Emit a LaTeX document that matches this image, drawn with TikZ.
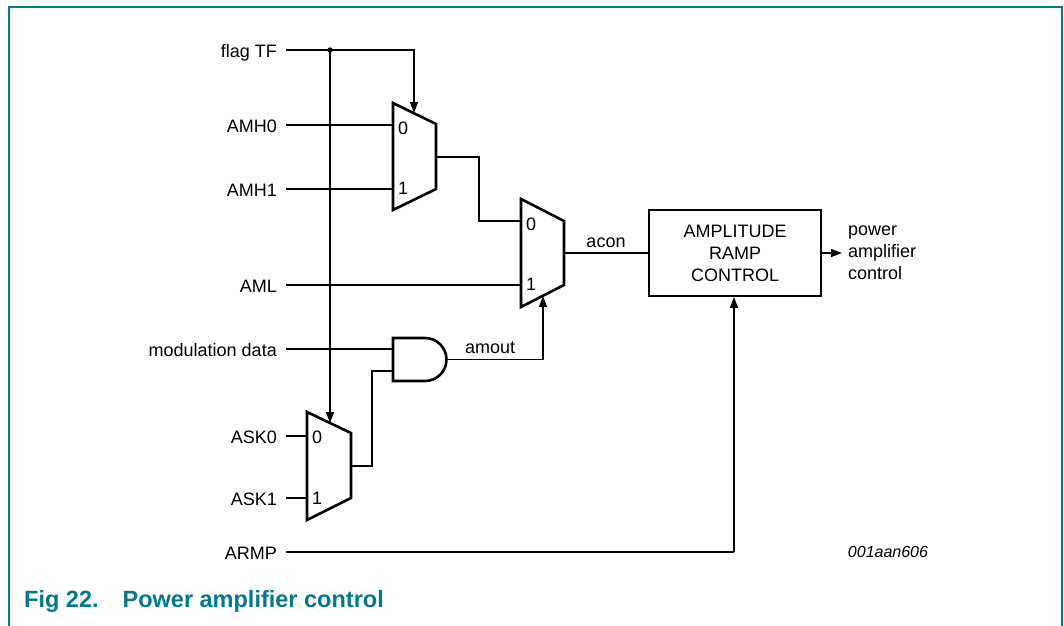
\documentclass[tikz,border=0pt]{standalone}
\usepackage{fontspec}
\setmainfont{Liberation Sans}
\usetikzlibrary{arrows.meta}
\definecolor{nxpteal}{RGB}{0,121,140}
\begin{document}
\begin{tikzpicture}[x=1pt,y=-1pt,
  wire/.style={line width=1.3pt},
  arr/.style={wire,-{Triangle[length=11pt,width=8pt]}},
  blk/.style={line width=2.6pt,line join=miter},
  lbl/.style={anchor=base east,inner sep=0pt,font=\fontsize{18}{22}\selectfont},
  pin/.style={anchor=base west,inner sep=0pt,font=\fontsize{18}{22}\selectfont},
  txt/.style={inner sep=0pt,font=\fontsize{18}{22}\selectfont}]
\useasboundingbox (0,0) rectangle (1064,625);
% frame
\draw[nxpteal,line width=2pt] (9,626) -- (9,7) -- (1062,7) -- (1062,626);
% input labels
\node[lbl] (ftf) at (277,57.5) {flag TF};
\node[lbl] (amh0) at (277,132.5) {AMH0};
\node[lbl] (amh1) at (277,196.5) {AMH1};
\node[lbl] (aml) at (277,292.5) {AML};
\node[lbl] (mod) at (277,356.5) {modulation data};
\node[lbl] (ask0) at (277,443.5) {ASK0};
\node[lbl] (ask1) at (277,505.5) {ASK1};
\node[lbl] (armp) at (277,559) {ARMP};
% muxes
\draw[blk] (393,103) -- (436,124) -- (436,189) -- (393,210) -- cycle;
\draw[blk] (521,199) -- (564,221) -- (564,285) -- (521,307) -- cycle;
\draw[blk] (307,412) -- (351,433) -- (351,498) -- (307,520) -- cycle;
\node[pin] (m1a) at (398,134) {0};
\node[pin] (m1b) at (398,194) {1};
\node[pin] (m2a) at (526,230) {0};
\node[pin] (m2b) at (526,290) {1};
\node[pin] (m3a) at (312,443) {0};
\node[pin] (m3b) at (312,504) {1};
% AND gate
\draw[blk] (393,338) -- (425,338) arc (90:-90:21.5pt) -- (393,381) -- cycle;
% box
\node[draw,blk,minimum width=172pt,minimum height=86pt,inner sep=0pt,align=center,
      font=\fontsize{18}{22}\selectfont] (arc) at (735,253) {AMPLITUDE\\RAMP\\CONTROL};
% coordinates
\coordinate (m1top) at (414,113);
\coordinate (m3top) at (330,423);
\coordinate (m2bot) at (543,296);
\coordinate (j) at (330,50);
\coordinate (m1in0) at (393,125);
\coordinate (m1in1) at (393,189);
\coordinate (m1out) at (436,157);
\coordinate (m2in0) at (521,221);
\coordinate (m2in1) at (521,285);
\coordinate (m2out) at (564,253);
\coordinate (m3in0) at (307,436);
\coordinate (m3in1) at (307,498);
\coordinate (m3out) at (351,466);
\coordinate (andin0) at (393,349);
\coordinate (andin1) at (393,371);
\coordinate (andout) at (446.5,359.5);
\coordinate (pout) at (842,253);
% wires
\draw[wire] (286,50) -- (j);
\draw[arr] (j) -| (m1top);
\draw[arr] (j) -- (m3top);
\fill (j) circle (2.7pt);
\draw[wire] (286,125) -- (m1in0);
\draw[wire] (286,189) -- (m1in1);
\draw[wire] (m1out) -- (479,157) |- (m2in0);
\draw[wire] (286,285) -- (m2in1);
\draw[wire] (m2out) -- (arc.west);
\node[txt,anchor=base] (acon) at (606,247) {acon};
\draw[wire] (286,349) -- (andin0);
\draw[wire] (m3out) -- (372,466) |- (andin1);
\draw[arr] (andout) -| (m2bot);
\node[txt,anchor=base west] (amout) at (465,353) {amout};
\draw[wire] (286,436) -- (m3in0);
\draw[wire] (286,498) -- (m3in1);
\draw[wire] (286,552) -- (734,552);
\draw[arr] (734,552) -- (734,297);
\draw[arr] (arc.east) -- (pout);
\node[txt,anchor=west,align=left] (pac) at (848,253) {power\\amplifier\\control};
\node[inner sep=0pt,anchor=base,font=\fontsize{16}{20}\selectfont\itshape] (id) at (888,557) {001aan606};
\node[inner sep=0pt,anchor=base west,text=nxpteal,font=\fontsize{23.5}{28}\selectfont\bfseries] (cap) at (24,607) {Fig 22.\hspace{24pt}Power amplifier control};
\end{tikzpicture}
\end{document}
